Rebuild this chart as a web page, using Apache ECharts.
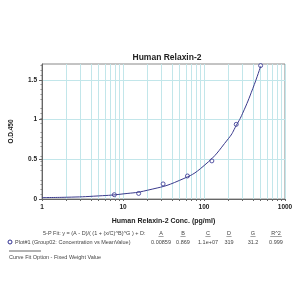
<!DOCTYPE html>
<html>
<head>
    <meta charset="utf-8">
    <script src="https://cdn.jsdelivr.net/npm/echarts@6/dist/echarts.min.js"></script>
    <style>
        * { margin: 0; padding: 0; }
        #main { width: 300px; height: 300px; background: #fff; }
    </style>
</head>
<body>
<div id="main"></div>
<script type="text/javascript">
    // standard points (conc pg/ml, OD)
    let concData = [7.81, 15.6, 31.25, 62.5, 125, 250, 500];
    let odData = [0.054, 0.07, 0.19, 0.29, 0.48, 0.94, 1.68];
    // fitted curve
    let curveX = [1, 2, 5, 10, 20, 50, 100, 200, 250, 300, 400, 500];
    let curveY = [0.018, 0.022, 0.039, 0.064, 0.11, 0.235, 0.42, 0.76, 0.925, 1.08, 1.39, 1.67];
    let xTicks = [1, 2, 3, 4, 5, 6, 7, 8, 9, 10, 20, 30, 40, 50, 60, 70, 80, 90, 100, 200, 300, 400, 500, 600, 700, 800, 900, 1000];
    let xLabels = [1, 10, 100, 1000];
    let yLabels = [0, 0.5, 1, 1.5];
    // fit parameters table
    let paramNames = ['A', 'B', 'C', 'D', 'G', 'R^2'];
    let paramValues = ['0.00859', '0.869', '1.1e+07', '319', '31.2', '0.999'];
    let paramX = [161, 183, 208, 229, 253, 276];

    let myChart = echarts.init(document.getElementById('main'));
    let font = 'Liberation Sans, Arial, sans-serif';

    let graphics = [
        {type: 'text', x: 167, y: 53, style: {text: 'Human Relaxin-2', font: 'bold 8.5px ' + font, fill: '#222', align: 'center'}},
        {type: 'text', left: 43, top: 230, style: {text: '5-P Fit: y = (A - D)/( (1 + (x/C)^B)^G ) + D:', font: '5.5px ' + font, fill: '#444'}},
        {type: 'circle', shape: {cx: 10, cy: 242, r: 2}, style: {fill: 'none', stroke: '#2e2e90', lineWidth: 1}},
        {type: 'text', left: 15, top: 239, style: {text: 'Plot#1 (Group02: Concentration vs MeanValue)', font: '5.5px ' + font, fill: '#444'}},
        {type: 'line', shape: {x1: 9, y1: 251, x2: 41, y2: 251}, style: {stroke: '#666', lineWidth: 1}},
        {type: 'text', left: 9, top: 254, style: {text: 'Curve Fit Option - Fixed Weight Value', font: '5.5px ' + font, fill: '#444'}}
    ];
    paramNames.forEach(function (n, i) {
        graphics.push({type: 'text', x: paramX[i], y: 230, style: {text: n, font: '5.5px ' + font, fill: '#444', align: 'center'}});
        graphics.push({type: 'line', shape: {x1: paramX[i] - n.length * 1.6 - 1, y1: 236.5, x2: paramX[i] + n.length * 1.6 + 1, y2: 236.5}, style: {stroke: '#666', lineWidth: 0.6}});
        graphics.push({type: 'text', x: paramX[i], y: 239, style: {text: paramValues[i], font: '5.5px ' + font, fill: '#444', align: 'center'}});
    });

    let option = {
        animation: false,
        grid: {left: 42, right: 15, top: 64, bottom: 101, show: true, borderColor: '#888', borderWidth: 1},
        xAxis: {
            type: 'log', logBase: 10, min: 1, max: 1000,
            name: 'Human Relaxin-2 Conc. (pg/ml)', nameLocation: 'middle', nameGap: 19,
            nameTextStyle: {fontSize: 7, fontWeight: 'bold', fontFamily: font, color: '#222'},
            axisLine: {show: true, onZero: false, lineStyle: {color: '#666'}},
            axisTick: {show: true, length: 2, customValues: xTicks, lineStyle: {color: '#666'}},
            axisLabel: {
                customValues: xLabels, fontSize: 6.5, fontWeight: 'bold', fontFamily: font, color: '#222', margin: 5,
                formatter: function (v) { return String(v); }
            },
            splitLine: {show: true, lineStyle: {color: '#c2e6ea', width: 1}}
        },
        yAxis: {
            type: 'value', min: 0, max: 1.7,
            name: 'O.D.450', nameLocation: 'middle', nameRotate: 90, nameGap: 27,
            nameTextStyle: {fontSize: 6.5, fontWeight: 'bold', fontFamily: font, color: '#222'},
            axisLine: {show: true, lineStyle: {color: '#666'}},
            axisTick: {show: true, length: 3, customValues: yLabels, lineStyle: {color: '#666'}},
            minorTick: {show: true, splitNumber: 5, length: 1.5, lineStyle: {color: '#888'}},
            axisLabel: {customValues: yLabels, fontSize: 6.5, fontWeight: 'bold', fontFamily: font, color: '#222', margin: 5},
            splitLine: {show: true, lineStyle: {color: '#c2e6ea', width: 1}}
        },
        graphic: graphics,
        series: [
            {
                type: 'line', smooth: true, symbol: 'none',
                data: curveX.map(function (x, i) { return [x, curveY[i]]; }),
                lineStyle: {color: '#3a3a8c', width: 1}
            },
            {
                type: 'scatter', symbol: 'circle', symbolSize: 4,
                data: concData.map(function (x, i) { return [x, odData[i]]; }),
                itemStyle: {color: '#fff', borderColor: '#2e2e90', borderWidth: 1}
            }
        ]
    };
    myChart.setOption(option);
</script>
</body>
</html>
